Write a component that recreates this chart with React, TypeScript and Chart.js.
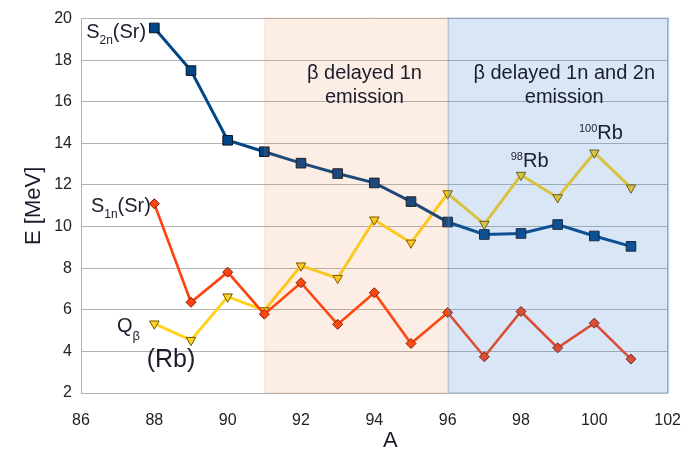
import { useEffect, useRef } from "react";
import { Chart, registerables } from "chart.js";

Chart.register(...registerables);

const FONT = '"Liberation Sans", Arial, Helvetica, sans-serif';
const TEXT = "#1b1d2c";

// Mass number A of the isotopes
const massNumbers = [88, 89, 90, 91, 92, 93, 94, 95, 96, 97, 98, 99, 100, 101];
// Two-neutron separation energy of Sr [MeV]
const s2nSr = [19.55, 17.5, 14.15, 13.6, 13.05, 12.55, 12.1, 11.2, 10.22, 9.62, 9.67, 10.1, 9.55, 9.05];
// One-neutron separation energy of Sr [MeV]
const s1nSr = [11.1, 6.36, 7.81, 5.79, 7.3, 5.3, 6.82, 4.38, 5.87, 3.74, 5.92, 4.17, 5.36, 3.63];
// Beta-decay Q value of Rb [MeV]
const qBetaRb = [5.33, 4.54, 6.63, 5.97, 8.12, 7.52, 10.33, 9.22, 11.59, 10.12, 12.48, 11.4, 13.55, 11.87];

const xLimits = [86, 102];
const yLimits = [2, 20];
const tickStep = 2;

// Emission regimes along A
const regimeRanges = [
  [91, 96],
  [96, 102],
];
const regimeFills = ["rgba(238,113,38,0.12)", "rgba(65,130,205,0.2)"];
const regimeEdges = ["rgba(230,150,110,0.15)", "rgba(90,130,190,0.3)"];
const regimeTitles = [
  ["β delayed 1n", "emission"],
  ["β delayed 1n and 2n", "emission"],
];
// [A, E] of the first baseline of each regime title
const regimeTitleAnchors = [
  [93.73, 17.08],
  [99.18, 17.08],
];

// Inline labels: runs of [text, font size, baseline shift], anchored at [A, E]
type Run = [string, number, number];
const inlineLabels: { runs: Run[]; at: [number, number] }[] = [
  { runs: [["S", 20, 0], ["2n", 12, 6], ["(Sr)", 20, 0]], at: [86.14, 19.06] },
  { runs: [["S", 20, 0], ["1n", 12, 6], ["(Sr)", 20, 0]], at: [86.27, 10.68] },
  { runs: [["Q", 20, 0], ["β", 13, 8]], at: [86.98, 4.93] },
  { runs: [["(Rb)", 25, 0]], at: [87.79, 3.27] },
  { runs: [["98", 11, -7], ["Rb", 20, 0]], at: [97.72, 12.87] },
  { runs: [["100", 11, -7], ["Rb", 20, 0]], at: [99.58, 14.22] },
];

const drawRuns = (ctx: CanvasRenderingContext2D, runs: Run[], x: number, y: number) => {
  let cx = x;
  for (const [text, size, dy] of runs) {
    ctx.font = `${size}px ${FONT}`;
    ctx.fillText(text, cx, y + dy);
    cx += ctx.measureText(text).width;
  }
};

const overlayPlugin = {
  id: "overlay",
  beforeDatasetsDraw(chart: any) {
    const { ctx, chartArea: a } = chart;
    ctx.save();
    ctx.strokeStyle = "#b3b3b3";
    ctx.lineWidth = 1;
    ctx.beginPath();
    ctx.moveTo(Math.round(a.right) - 0.5, a.top);
    ctx.lineTo(Math.round(a.right) - 0.5, a.bottom);
    ctx.stroke();
    ctx.restore();
  },
  afterDatasetsDraw(chart: any) {
    const { ctx, chartArea: a } = chart;
    const xs = chart.scales.x;
    const ys = chart.scales.y;
    ctx.save();
    regimeRanges.forEach(([from, to], i) => {
      const x0 = xs.getPixelForValue(from);
      const x1 = xs.getPixelForValue(to) + 1.5;
      ctx.fillStyle = regimeFills[i];
      ctx.fillRect(x0, a.top - 1, x1 - x0, a.bottom - a.top + 1);
      ctx.strokeStyle = regimeEdges[i];
      ctx.lineWidth = 1;
      ctx.strokeRect(x0 + 0.5, a.top - 0.5, x1 - x0 - 1, a.bottom - a.top);
    });

    ctx.fillStyle = TEXT;
    ctx.textBaseline = "alphabetic";
    ctx.textAlign = "center";
    ctx.font = `20px ${FONT}`;
    regimeTitles.forEach((lines, i) => {
      const [ax, ay] = regimeTitleAnchors[i];
      const px = xs.getPixelForValue(ax);
      const py = ys.getPixelForValue(ay);
      lines.forEach((line, j) => ctx.fillText(line, px, py + j * 23.3));
    });

    ctx.textAlign = "left";
    for (const label of inlineLabels) {
      drawRuns(ctx, label.runs, xs.getPixelForValue(label.at[0]), ys.getPixelForValue(label.at[1]));
    }

    // axis titles
    ctx.font = `22px ${FONT}`;
    ctx.textAlign = "center";
    ctx.fillText("A", (a.left + a.right) / 2 + 16, chart.height - 2);
    ctx.save();
    ctx.translate(a.left - 41, (a.top + a.bottom) / 2);
    ctx.rotate(-Math.PI / 2);
    ctx.fillText("E [MeV]", 0, 0);
    ctx.restore();
    ctx.restore();
  },
};

const series = (values: number[]) => massNumbers.map((x, i) => ({ x, y: values[i] }));

export default function App() {
  const canvasRef = useRef<HTMLCanvasElement | null>(null);

  useEffect(() => {
    const canvas = canvasRef.current;
    if (!canvas) return;
    const chart = new Chart(canvas, {
      type: "line",
      data: {
        datasets: [
          {
            label: "S2n(Sr)",
            data: series(s2nSr),
            borderColor: "#004586",
            borderWidth: 3,
            pointStyle: "rect",
            pointRadius: 6.8,
            pointBackgroundColor: "#004586",
            pointBorderColor: "#0a1626",
            pointBorderWidth: 1,
          },
          {
            label: "S1n(Sr)",
            data: series(s1nSr),
            borderColor: "#ff420e",
            borderWidth: 2.6,
            pointStyle: "rectRot",
            pointRadius: 5,
            pointBackgroundColor: "#ff420e",
            pointBorderColor: "#7a1a04",
            pointBorderWidth: 1,
          },
          {
            label: "Qβ(Rb)",
            data: series(qBetaRb),
            borderColor: "#ffd320",
            borderWidth: 3,
            pointStyle: "triangle",
            pointRotation: 180,
            pointRadius: 5.5,
            pointBackgroundColor: "#ffd320",
            pointBorderColor: "#6b5600",
            pointBorderWidth: 1,
          },
        ],
      },
      options: {
        responsive: false,
        animation: false,
        events: [],
        layout: { padding: { top: 15, right: 19.5, left: 0, bottom: 0 } },
        plugins: { legend: { display: false }, tooltip: { enabled: false } },
        elements: { line: { tension: 0 } },
        scales: {
          x: {
            type: "linear",
            min: xLimits[0],
            max: xLimits[1],
            ticks: { stepSize: tickStep, font: { family: FONT, size: 16 }, color: "#222", padding: 10 },
            grid: { display: false },
            border: { display: true, color: "#b3b3b3", width: 1 },
            afterFit: (s: any) => {
              s.height = 56;
            },
          },
          y: {
            type: "linear",
            min: yLimits[0],
            max: yLimits[1],
            ticks: { stepSize: tickStep, font: { family: FONT, size: 16 }, color: "#222", padding: 9 },
            grid: { color: "#b3b3b3", lineWidth: 1, drawTicks: false },
            border: { display: true, color: "#b3b3b3", width: 1 },
            afterFit: (s: any) => {
              s.width = 81;
            },
          },
        },
      },
      plugins: [overlayPlugin],
    });
    return () => chart.destroy();
  }, []);

  return (
    <div style={{ position: "fixed", left: 0, top: 0, width: 691, height: 449, background: "#fff" }}>
      <canvas ref={canvasRef} width={691} height={449} />
    </div>
  );
}
